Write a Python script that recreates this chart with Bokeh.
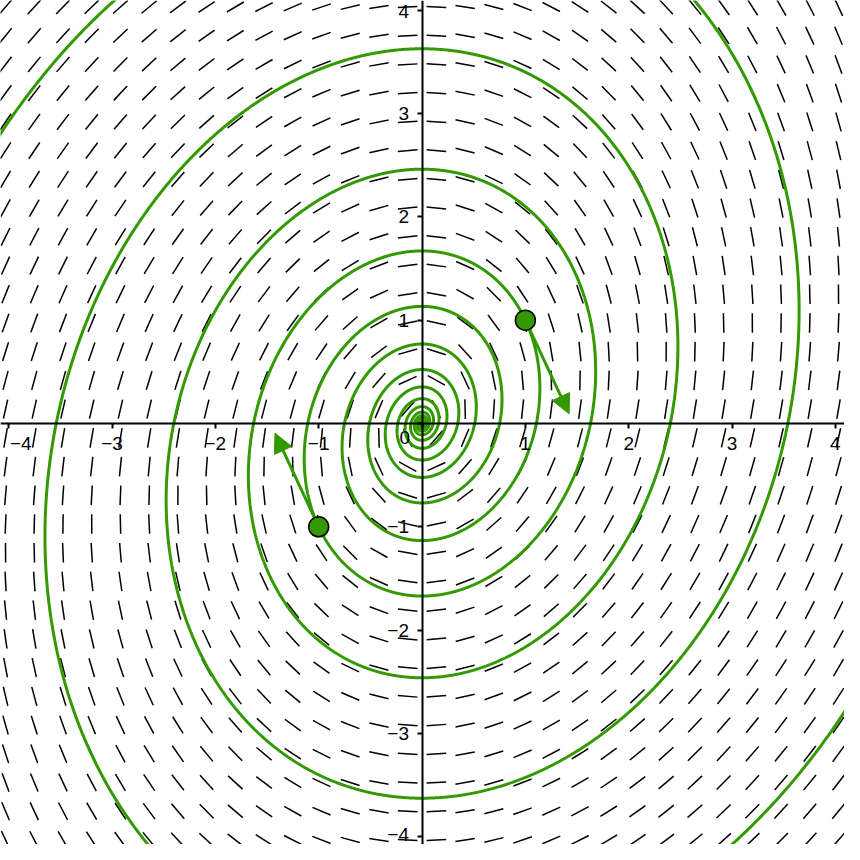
import numpy as np
from bokeh.plotting import figure
from bokeh.models import Arrow, NormalHead, FixedTicker
from bokeh.core.properties import value
from bokeh.embed import file_html
from bokeh.resources import INLINE

# Linear system  x' = A x  (coefficients read from the slope field)
A_ROW1 = [-0.3, 1.0]
A_ROW2 = [-1.5, 0.0]
# Marked points (trajectories pass through them)
POINTS_X = [1.0, -1.0]
POINTS_Y = [1.0, -1.0]
# Axis ticks
TICKS = [-4, -3, -2, -1, 0, 1, 2, 3, 4]
TICK_LABELS = ["\u2002−4", "−3", "−2", "−1", "", "1", "2", "3", "4"]
# Slope field grid
FIELD_MIN, FIELD_MAX, FIELD_N = -4.03, 4.03, 30

GREEN = "#339900"
FONT = "Liberation Sans"

M = np.array([A_ROW1, A_ROW2])

p = figure(width=844, height=844, x_range=(-4.079, 4.088), y_range=(-4.074, 4.093),
           output_backend="svg", toolbar_location=None, min_border=0,
           background_fill_color="white", border_fill_color="white")
p.outline_line_color = None
p.grid.visible = False

# slope field
g = np.linspace(FIELD_MIN, FIELD_MAX, FIELD_N)
GX, GY = np.meshgrid(g, g)
GX = GX.ravel(); GY = GY.ravel()
U = M[0, 0] * GX + M[0, 1] * GY
V = M[1, 0] * GX + M[1, 1] * GY
N = np.hypot(U, V)
N[N == 0] = 1
h = 0.095
p.segment(GX - h * U / N, GY - h * V / N, GX + h * U / N, GY + h * V / N,
          line_color="black", line_width=1.5)

# trajectories through the marked points
w, Vec = np.linalg.eig(M)
t = np.linspace(-16, 45, 30000)
for px, py in zip(POINTS_X, POINTS_Y):
    c = np.linalg.solve(Vec, np.array([px, py], dtype=complex))
    traj = (Vec @ (c[:, None] * np.exp(np.outer(w, t)))).real
    p.line(traj[0], traj[1], line_color=GREEN, line_width=3)

# direction arrows (unit vectors)
for px, py in zip(POINTS_X, POINTS_Y):
    vx = M[0, 0] * px + M[0, 1] * py
    vy = M[1, 0] * px + M[1, 1] * py
    n = np.hypot(vx, vy)
    p.add_layout(Arrow(end=NormalHead(size=19, fill_color=GREEN, line_color=GREEN),
                       x_start=px, y_start=py, x_end=px + vx / n, y_end=py + vy / n,
                       line_color=GREEN, line_width=3))

p.scatter(POINTS_X, POINTS_Y, size=20, fill_color=GREEN, line_color="black",
          line_width=1.5, level="overlay")

# axes through the origin
for ax in (p.xaxis, p.yaxis):
    ax.fixed_location = 0
    ax.ticker = FixedTicker(ticks=TICKS)
    ax.major_label_overrides = dict(zip(TICKS, TICK_LABELS))
    ax.axis_line_width = 2
    ax.major_tick_line_width = 2
    ax.major_tick_out = 5
    ax.major_tick_in = 0
    ax.minor_tick_line_color = None
    ax.major_label_text_font = FONT
    ax.major_label_text_font_size = "19px"
    ax.major_label_text_color = "black"
p.xaxis.major_label_standoff = 5
p.yaxis.major_label_standoff = 8

p.text(x=[0], y=[0], text=["0"], x_offset=-12, y_offset=8, text_align="right",
       text_baseline="top", text_font=value(FONT), text_font_size="19px", text_color="black")

open("out.html", "w").write(file_html(p, INLINE))
